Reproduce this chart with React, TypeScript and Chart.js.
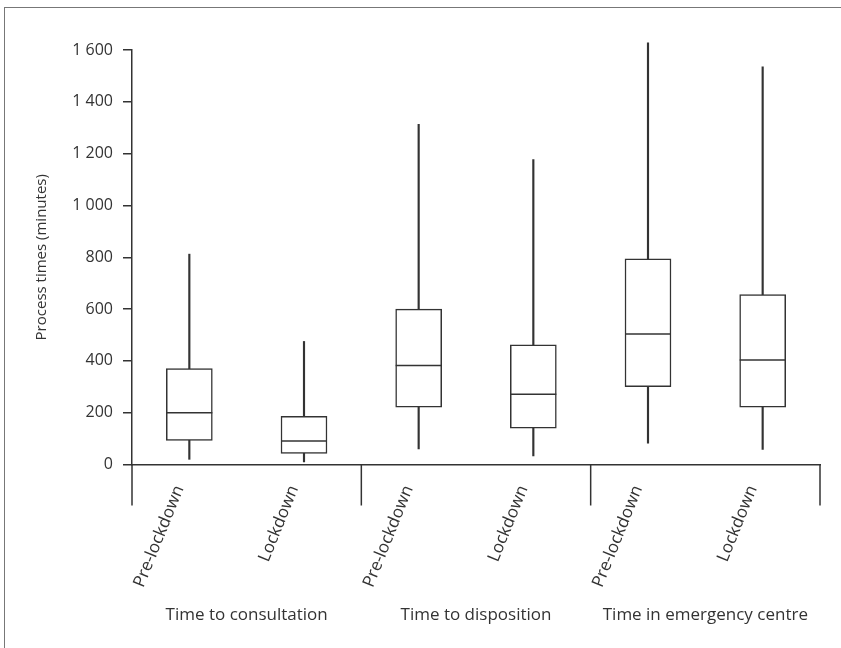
import React, { useEffect, useRef } from 'react';
import { Chart, registerables } from 'chart.js';

Chart.register(...registerables);

const categories = ['Pre-lockdown', 'Lockdown', 'Pre-lockdown', 'Lockdown', 'Pre-lockdown', 'Lockdown'];
const groups = ['Time to consultation', 'Time to disposition', 'Time in emergency centre'];
const whiskerMin = [20, 10, 60, 33, 82, 58];
const q1 = [93, 43, 221, 140, 300, 221];
const median = [200, 91, 382, 271, 504, 403];
const q3 = [370, 186, 600, 462, 794, 656];
const whiskerMax = [812, 475, 1313, 1177, 1628, 1535];
const yMin = 0;
const yMax = 1600;
const yStep = 200;

const FONT = '"Open Sans", sans-serif';
const INK = '#333333';

const fmt = (v: number) => String(v).replace(/\B(?=(\d{3})+(?!\d))/g, ' ');

const boxExtras = {
  id: 'boxExtras',
  afterDatasetsDraw(chart: any) {
    const ctx = chart.ctx;
    const yScale = chart.scales.y;
    const meta = chart.getDatasetMeta(1);
    ctx.save();
    ctx.strokeStyle = INK;
    ctx.lineWidth = 1.5;
    meta.data.forEach((el: any, i: number) => {
      const y = yScale.getPixelForValue(median[i]);
      ctx.beginPath();
      ctx.moveTo(el.x - el.width / 2, y);
      ctx.lineTo(el.x + el.width / 2, y);
      ctx.stroke();
    });
    ctx.restore();
  },
  afterDraw(chart: any) {
    const ctx = chart.ctx;
    const xs = chart.scales.x;
    const area = chart.chartArea;
    const mid = (a: number, b: number) => (xs.getPixelForValue(a) + xs.getPixelForValue(b)) / 2;
    const lines = [xs.left, mid(1, 2), mid(3, 4), xs.right];
    ctx.save();
    ctx.strokeStyle = INK;
    ctx.lineWidth = 1.5;
    lines.forEach((x) => {
      ctx.beginPath();
      ctx.moveTo(x, area.bottom);
      ctx.lineTo(x, area.bottom + 41);
      ctx.stroke();
    });
    ctx.restore();
  },
};

export default function App() {
  const ref = useRef<HTMLCanvasElement | null>(null);
  useEffect(() => {
    if (!ref.current) return;
    const chart = new Chart(ref.current, {
      type: 'bar',
      data: {
        labels: categories,
        datasets: [
          {
            label: 'whiskers',
            data: categories.map((_, i) => [whiskerMin[i], whiskerMax[i]]) as any,
            backgroundColor: INK,
            borderWidth: 0,
            barThickness: 1.5,
            grouped: false,
            clip: false,
            order: 2,
          },
          {
            label: 'boxes',
            data: categories.map((_, i) => [q1[i], q3[i]]) as any,
            backgroundColor: '#ffffff',
            borderColor: INK,
            borderWidth: 1.5,
            borderSkipped: false,
            barThickness: 46,
            grouped: false,
            order: 1,
          },
        ] as any,
      },
      options: {
        animation: false,
        responsive: false,
        layout: { padding: { left: 29, top: 50, right: 21, bottom: 18.5 } },
        plugins: { legend: { display: false }, tooltip: { enabled: false } },
        scales: {
          y: {
            min: yMin,
            max: yMax,
            afterFit: (s: any) => { s.width = 103; },
            ticks: {
              stepSize: yStep,
              padding: 10,
              color: INK,
              font: { family: FONT, size: 16 },
              callback: (v: any) => fmt(Number(v)),
            },
            grid: { drawOnChartArea: false, drawTicks: true, tickLength: 9, color: INK, lineWidth: 1.5 },
            border: { display: true, color: INK, width: 1.5 },
            title: {
              display: true,
              text: 'Process times (minutes)',
              color: INK,
              font: { family: FONT, size: 15 },
            },
          },
          x: {
            afterFit: (s: any) => { s.height = 125; },
            ticks: {
              minRotation: 68,
              maxRotation: 68,
              autoSkip: false,
              padding: 18,
              labelOffset: -10,
              color: INK,
              font: { family: FONT, size: 17 },
            },
            grid: { display: false, drawTicks: false },
            border: { display: true, color: INK, width: 1.5 },
          },
          x2: {
            type: 'category',
            labels: groups,
            position: 'bottom',
            weight: 1,
            offset: true,
            afterFit: (s: any) => { s.height = 40; },
            ticks: { padding: 15, color: INK, font: { family: FONT, size: 17 } },
            grid: { display: false, drawTicks: false },
            border: { display: false },
          },
        } as any,
      },
      plugins: [boxExtras],
    });
    return () => chart.destroy();
  }, []);

  return (
    <div style={{ position: 'fixed', left: 0, top: 0, width: 841, height: 648, background: '#fff', overflow: 'hidden' }}>
      <div style={{ position: 'absolute', left: 4, top: 7, right: -10, bottom: -10, borderLeft: '1px solid #777', borderTop: '1px solid #777' }} />
      <canvas ref={ref} width={841} height={648} style={{ position: 'absolute', left: 0, top: 0, width: 841, height: 648 }} />
    </div>
  );
}
